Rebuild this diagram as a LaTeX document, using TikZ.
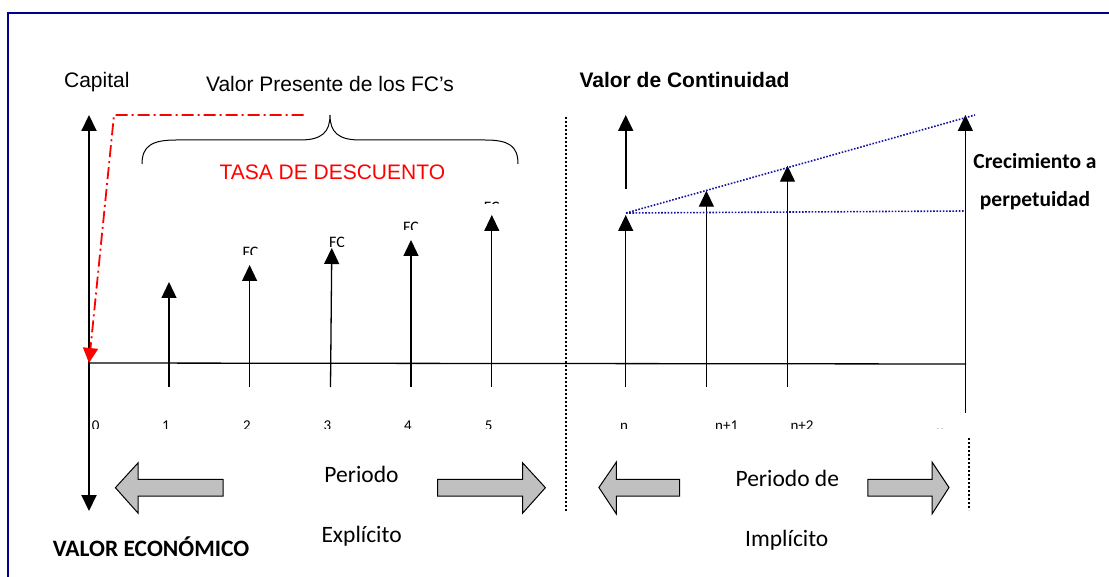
\documentclass[tikz,border=0pt]{standalone}
\usepackage{fontspec}
\setmainfont{Liberation Sans}
\newfontfamily\calfont{Carlito}
\newfontfamily\djvfont{DejaVu Sans}
\usetikzlibrary{arrows.meta}
\definecolor{framenavy}{RGB}{0,0,140}
\definecolor{dotnavy}{RGB}{20,20,160}
\definecolor{blockgray}{RGB}{192,192,192}
\tikzset{
  tip/.style={-{Triangle[width=15pt,length=16pt]}},
  fcarrow/.style={line width=1.3pt, tip},
  tick/.style={line width=1.3pt},
  blockarrow/.style={draw=black, line width=1pt, fill=blockgray},
  blackdots/.style={line width=2pt, dash pattern=on 2pt off 2pt},
  bluedots/.style={dotnavy, line width=1.6pt, dash pattern=on 1.6pt off 1.6pt},
  arial/.style={font=\fontsize{21}{25}\selectfont, anchor=base},
  arialbold/.style={font=\fontsize{21}{25}\selectfont\bfseries, anchor=base},
  calreg/.style={font=\calfont\fontsize{23.5}{28}\selectfont, anchor=base},
  calbold/.style={font=\calfont\bfseries\fontsize{21.5}{26}\selectfont, anchor=base},
  small/.style={font=\calfont\fontsize{15}{18}\selectfont, anchor=base, inner sep=0pt},
}
\begin{document}
\begin{tikzpicture}[x=1pt,y=-1pt]
\clip (0,0) rectangle (1109,577);
\fill[white] (0,0) rectangle (1109,577);
% frame
\draw[framenavy, line width=2.5pt] (8,13) rectangle (1130,600);

% axes coordinates
\coordinate (O) at (89,363);
\coordinate (E) at (966,364);
\coordinate (Ytop) at (89,115);
\coordinate (Ybot) at (89,511);
\draw[line width=1.3pt] (O) -- (E);
\draw[line width=2pt, {Triangle[width=15pt,length=16pt]}-{Triangle[width=15pt,length=16pt]}] (Ybot) -- (Ytop);

% explicit period arrows
\coordinate (b1) at (169,387);   \coordinate (t1) at (169,282);
\coordinate (b2) at (249.6,387); \coordinate (t2) at (249.6,265);
\coordinate (b3) at (330.5,387); \coordinate (t3) at (331.8,248);
\coordinate (b4) at (411,387);   \coordinate (t4) at (411,240);
\coordinate (b5) at (491.8,387); \coordinate (t5) at (491.8,215);
\foreach \i in {1,...,5} {\draw[fcarrow] (b\i) -- (t\i);}

% implicit period arrows
\coordinate (bn) at (625.7,387);   \coordinate (tn) at (625.7,215);
\coordinate (bn1) at (706.4,387);  \coordinate (tn1) at (706.4,190.7);
\coordinate (bn2) at (787.5,387);  \coordinate (tn2) at (787.5,165.7);
\coordinate (binf) at (965.4,412.7); \coordinate (tinf) at (965.4,115);
\draw[fcarrow] (bn) -- (tn);
\draw[fcarrow] (bn1) -- (tn1);
\draw[fcarrow] (bn2) -- (tn2);
\draw[fcarrow] (binf) -- (tinf);
\coordinate (vcb) at (625.7,189);  \coordinate (vct) at (625.7,115);
\draw[line width=2pt, tip] (vcb) -- (vct);

% growth lines
\coordinate (g0) at (626,213);
\coordinate (g1) at (975,115);
\coordinate (g2) at (965,211);
\draw[bluedots] (g0) -- (g1);
\draw[bluedots] (g0) -- (g2);

% separators
\coordinate (s1a) at (566,117); \coordinate (s1b) at (566,512);
\coordinate (s2a) at (968.6,438); \coordinate (s2b) at (968.6,510);
\draw[blackdots] (s1a) -- (s1b);
\draw[blackdots] (s2a) -- (s2b);

% red dash-dot
\coordinate (r1) at (303.6,115);
\coordinate (r2) at (114,115);
\draw[red, line width=1.8pt, dash pattern=on 12pt off 4pt on 2pt off 4pt,
      -{Triangle[width=15pt,length=15pt]}] (r1) -- (r2) -- (O);

% brace
\draw[line width=1pt] (142,164) .. controls (142,146) and (152,140) .. (176,140)
  -- (300,140) .. controls (322,140) and (330,132) .. (330,115)
  .. controls (330,132) and (338,140) .. (360,140)
  -- (485,140) .. controls (509,140) and (518,146) .. (518,164);

% block arrows
\draw[blockarrow] (115.4,487.7) -- (138.2,462.7) -- (138.2,479.3) -- (223,479.3)
  -- (223,496) -- (138.2,496) -- (138.2,513.3) -- cycle;
\draw[blockarrow] (437.5,479.3) -- (522.5,479.3) -- (522.5,462.7) -- (545.4,487.7)
  -- (522.5,513.3) -- (522.5,496) -- (437.5,496) -- cycle;
\draw[blockarrow] (598.9,487.5) -- (616.4,462) -- (616.4,479.3) -- (679.6,479.3)
  -- (679.6,496) -- (616.4,496) -- (616.4,514) -- cycle;
\draw[blockarrow] (867.9,479.3) -- (932,479.3) -- (932,462) -- (949,487.5)
  -- (932,514) -- (932,496) -- (867.9,496) -- cycle;

% texts
\node[arial] (cap) at (96.8,87.3) {Capital};
\node[arial] (vp) at (330,91.7) {Valor Presente de los FC’s};
\node[arial, text=red] (tasa) at (332.3,180) {TASA DE DESCUENTO};
\node[arialbold] (vc) at (684.5,87.3) {Valor de Continuidad};
\node[calbold] (crec) at (1035,168.3) {Crecimiento a};
\node[calbold] (perp) at (1035,206.7) {perpetuidad};
\node[calbold, font=\calfont\bfseries\fontsize{23.5}{28}\selectfont] (ve) at (151,556) {VALOR ECONÓMICO};
\node[calreg] (p1) at (361.5,482.3) {Periodo};
\node[calreg] (ex) at (361.6,542.7) {Explícito};
\node[calreg] (p2) at (787.3,486.7) {Periodo de};
\node[calreg] (im) at (786.8,546.7) {Implícito};

% clipped time labels
\begin{scope}
\clip (60,400) rectangle (1000,428.5);
\node[small] (l0) at (95.7,431) {0};
\node[small] (l1) at (166,431) {1};
\node[small] (l2) at (247,431) {2};
\node[small] (l3) at (327.5,431) {3};
\node[small] (l4) at (408,431) {4};
\node[small] (l5) at (488.6,431) {5};
\node[small] (ln) at (624,431) {n};
\node[small] (ln1) at (726.7,431) {n+1};
\node[small] (ln2) at (802,431) {n+2};
\node[small, font=\djvfont\fontsize{15}{18}\selectfont] (linf) at (940,436) {∞};
\end{scope}

% clipped FC labels
\begin{scope}
\clip (230,240) rectangle (270,255);
\node[small, font=\calfont\fontsize{16}{18}\selectfont] (fc2) at (250.5,258) {FC};
\end{scope}
\begin{scope}
\clip (318,228) rectangle (356,247);
\node[small, font=\calfont\fontsize{16}{18}\selectfont] (fc3) at (337,247.3) {FC};
\end{scope}
\begin{scope}
\clip (392,212) rectangle (430,230);
\node[small, font=\calfont\fontsize{16}{18}\selectfont] (fc4) at (411,232.3) {FC};
\end{scope}
\begin{scope}
\clip (472,195) rectangle (512,204);
\node[small, font=\calfont\fontsize{16}{18}\selectfont] (fc5) at (491.7,213) {FC};
\end{scope}
\end{tikzpicture}
\end{document}
